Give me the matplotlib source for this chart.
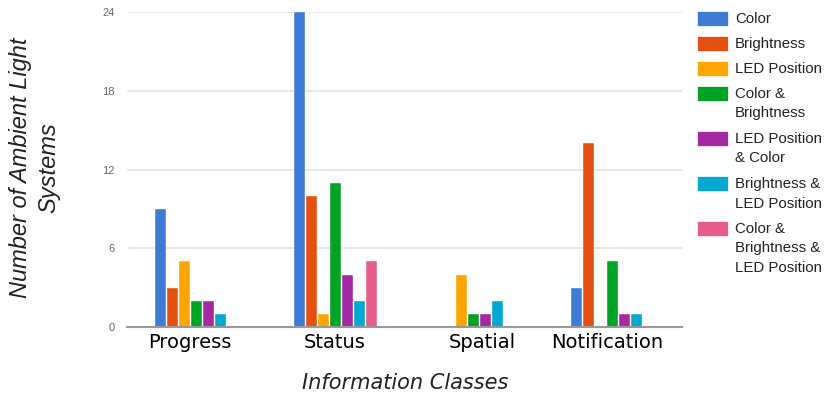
import numpy as np
import matplotlib.pyplot as plt
from matplotlib.patches import Rectangle

classes = ["Progress", "Status", "Spatial", "Notification"]
series = ["Color", "Brightness", "LED Position", "Color &\nBrightness",
          "LED Position\n& Color", "Brightness &\nLED Position",
          "Color &\nBrightness &\nLED Position"]
counts = [
    [9, 24, 0, 3],   # Color
    [3, 10, 0, 14],  # Brightness
    [5, 1, 4, 0],    # LED Position
    [2, 11, 1, 5],   # Color & Brightness
    [2, 4, 1, 1],    # LED Position & Color
    [1, 2, 2, 1],    # Brightness & LED Position
    [0, 5, 0, 0],    # Color & Brightness & LED Position
]
colors = ["#3d7bd5", "#e45010", "#fea500", "#00a325", "#a627a4", "#00a8d2", "#e65d89"]
yticks = [0, 6, 12, 18, 24]

fig = plt.figure(figsize=(8.25, 3.96), dpi=100)
W, H = 825, 396
ax = fig.add_axes([127 / W, 1 - 327 / H, (682 - 127) / W, (327 - 12) / H])

x = np.arange(len(classes))
step = 0.0865
width = 0.08
for i, (vals, c) in enumerate(zip(counts, colors)):
    ax.bar(x - 3 * step + i * step, vals, width=width, color=c,
           edgecolor="white", linewidth=0.3, zorder=3)

ax.set_xlim(-0.5, 3.5)
ax.set_ylim(0, 24)
ax.set_yticks(yticks)
ax.set_yticklabels([str(t) for t in yticks], fontsize=8, color="#666666",
                   family="Liberation Sans")
ax.grid(axis="y", color="#e4e4e4", linewidth=1.2, zorder=0)
ax.set_xticks(x - np.array([0.05, 0.0, -0.06, 0.04]))
ax.set_xticklabels(classes, fontsize=14, color="black")
ax.tick_params(length=0)
ax.tick_params(axis="y", pad=9)
ax.tick_params(axis="x", pad=4)
for s in ["top", "right", "left"]:
    ax.spines[s].set_visible(False)
ax.spines["bottom"].set_color("#999999")
ax.spines["bottom"].set_linewidth(1.5)
ax.spines["bottom"].set_zorder(4)

fig.text(405 / W, 1 - 383 / H, "Information Classes", ha="center", va="center",
         fontsize=15, style="italic", color="#222222")
fig.text(35 / W, 1 - 168 / H, "Number of Ambient Light\nSystems", ha="center",
         va="center", rotation=90, fontsize=17, style="italic", color="#222222",
         family="Liberation Sans", linespacing=1.3)

# legend drawn by hand so each entry sits where it should
rows = [18, 43, 68, 93, 138, 183, 228]
for lab, c, ty in zip(series, colors, rows):
    fig.patches.append(Rectangle((697 / W, 1 - (ty + 8) / H), 31 / W, 15 / H,
                                 transform=fig.transFigure, facecolor=c,
                                 edgecolor="white", linewidth=0.5))
    fig.text(735 / W, 1 - (ty - 6) / H, lab, ha="left", va="top", fontsize=10.8,
             color="#222222", family="Liberation Sans", linespacing=1.5)

fig.savefig("out.png", dpi=100)
